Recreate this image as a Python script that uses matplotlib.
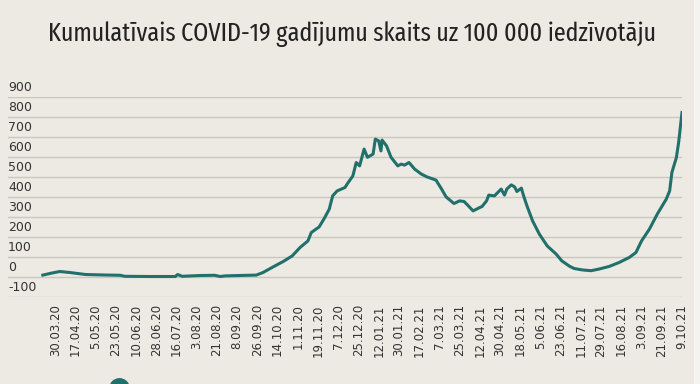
import matplotlib
matplotlib.use("Agg")
import matplotlib.pyplot as plt
from matplotlib import font_manager
from matplotlib.font_manager import FontProperties
from matplotlib.patches import Rectangle

# ---- data (days since 30.03.2020, 14-day cumulative cases per 100 000) ----
day = [-11, -4, 4, 13, 27, 40, 58, 62, 84, 107, 109, 113, 129, 142, 147, 151, 164,
       179, 185, 194, 203, 211, 218, 225, 228, 235, 240, 244, 247, 251, 258, 260,
       265, 268, 271, 275, 278, 283, 285, 288, 290, 291, 295, 299, 305, 308, 311,
       315, 320, 326, 331, 339, 344, 348, 355, 360, 364, 367, 372, 378, 380, 384,
       386, 391, 397, 400, 402, 406, 409, 411, 415, 417, 420, 425, 431, 438, 446,
       451, 458, 462, 469, 477, 484, 493, 502, 511, 517, 522, 529, 536, 544, 547,
       549, 553, 555, 558]
value = [11, 20, 29, 24, 14, 12, 10, 5, 4, 4, 14, 5, 9, 10, 4, 7, 9,
         11, 24, 52, 79, 107, 149, 182, 224, 252, 299, 341, 407, 432, 449, 467,
         507, 574, 557, 641, 600, 616, 691, 682, 632, 686, 657, 600, 557, 566, 561,
         574, 541, 516, 502, 486, 441, 402, 369, 382, 379, 362, 332, 349, 354, 382,
         411, 407, 441, 411, 441, 462, 452, 429, 446, 407, 357, 282, 216, 157, 116,
         82, 55, 44, 37, 33, 41, 54, 74, 99, 124, 182, 241, 316, 391, 432,
         524, 599, 674, 824]

tick_labels = ["30.03.20", "17.04.20", "5.05.20", "23.05.20", "10.06.20", "28.06.20",
               "16.07.20", "3.08.20", "21.08.20", "8.09.20", "26.09.20", "14.10.20",
               "1.11.20", "19.11.20", "7.12.20", "25.12.20", "12.01.21", "30.01.21",
               "17.02.21", "7.03.21", "25.03.21", "12.04.21", "30.04.21", "18.05.21",
               "5.06.21", "23.06.21", "11.07.21", "29.07.21", "16.08.21", "3.09.21",
               "21.09.21", "9.10.21"]
y_ticks = [-100, 0, 100, 200, 300, 400, 500, 600, 700, 800, 900]

title = "Kumulatīvais COVID-19 gadījumu skaits uz 100 000 iedzīvotāju"

BG = "#ECEAE2"
LINE = "#21706B"
GRID = "#C9C7BF"
TXT = "#333333"


def _weight(f):
    w = f.weight
    if isinstance(w, int):
        return w
    return font_manager.weight_dict.get(str(w), 400)


def _stretch_rank(f):
    nm = (f.name + " " + f.fname).lower().replace("-", "").replace(" ", "")
    s = str(f.stretch)
    if "extracondensed" in nm or s == "extra-condensed":
        return 0
    if "semicondensed" in nm or s == "semi-condensed":
        return 2
    return 1


# pick a condensed / narrow font if one is installed
cands = []
for f in font_manager.fontManager.ttflist:
    nm = (f.name + " " + f.fname).lower()
    if ("condensed" in nm or "narrow" in nm or str(f.stretch) in ("condensed", "semi-condensed", "extra-condensed")) \
            and "italic" not in nm and "oblique" not in nm and f.style == "normal":
        cands.append(f)
if cands:
    cands.sort(key=lambda f: (_stretch_rank(f), abs(_weight(f) - 400), f.fname))
    title_fp = FontProperties(fname=cands[0].fname)
else:
    title_fp = FontProperties(family="DejaVu Sans")

fig = plt.figure(figsize=(7.0, 3.84), dpi=100, facecolor=BG)
ax = fig.add_axes([8 / 700, 86.7 / 384, 674 / 700, 200 / 384])
ax.set_facecolor(BG)

ax.set_ylim(-100, 900)
ax.set_xlim(-42, 558)
for yv in y_ticks:
    ax.axhline(yv, color=GRID, lw=1.0, zorder=1)
    ax.annotate(str(yv), xy=(0, yv), xycoords=("axes fraction", "data"),
                xytext=(0, 10), textcoords="offset pixels", ha="left", va="center",
                fontsize=9, color=TXT, family="DejaVu Sans")

ax.plot(day, value, color=LINE, lw=2.2, zorder=3, solid_joinstyle="round")

ticks = [18 * i for i in range(len(tick_labels))]
ax.set_xticks(ticks)
ax.set_xticklabels(tick_labels, rotation=90, fontsize=8.5, color=TXT)
ax.tick_params(axis="x", length=0, pad=5)
ax.set_yticks([])
for s in ax.spines.values():
    s.set_visible(False)

# title fitted to the reference width (x 46 .. 657 px)
title_fp.set_size(20)
t = fig.text(351.5 / 700, 1 - 41 / 384, title, ha="center", va="baseline",
             color="#222222", fontproperties=title_fp)
fig.canvas.draw()
w = t.get_window_extent().width
title_fp.set_size(20 * 611.0 / w)
t.set_fontproperties(title_fp)

# right edge strip
fig.patches.append(Rectangle((694 / 700, 0), 6 / 700, 1, transform=fig.transFigure,
                             facecolor="#F4F3EF", edgecolor="none", zorder=0))

# partially visible legend marker at bottom
fig.add_artist(plt.Line2D([119 / 700], [-4 / 384], marker="o", markersize=14,
                          color=LINE, transform=fig.transFigure, clip_on=False))

fig.savefig("out.png", dpi=100, facecolor=BG)
